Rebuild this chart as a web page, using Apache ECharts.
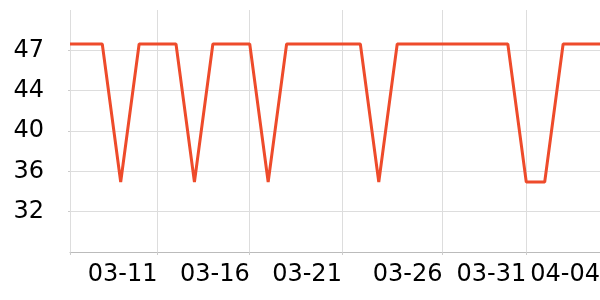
<!DOCTYPE html>
<html>
<head>
<meta charset="utf-8">
<script src="https://cdn.jsdelivr.net/npm/echarts@6/dist/echarts.min.js"></script>
<style>html,body{margin:0;padding:0;background:#fff}#c{width:600px;height:300px}</style>
</head>
<body>
<div id="c"></div>
<script>
// Data (readings; first one at the left edge of the window)
const dates = ['2024-03-06 06:00','2024-03-07','2024-03-08','2024-03-09','2024-03-10','2024-03-11','2024-03-12','2024-03-13','2024-03-14','2024-03-15','2024-03-16','2024-03-17','2024-03-18','2024-03-19','2024-03-20','2024-03-21','2024-03-22','2024-03-23','2024-03-24','2024-03-25','2024-03-26','2024-03-27','2024-03-28','2024-03-29','2024-03-30','2024-03-31','2024-04-01','2024-04-02','2024-04-03','2024-04-04'];
const values = [48,48,48,35,48,48,48,35,48,48,48,35,48,48,48,48,48,35,48,48,48,48,48,48,48,35,35,48,48,48];
// x axis ticks / labels
const xTicks = ['2024-03-06 06:00','2024-03-11','2024-03-16','2024-03-21','2024-03-26 11:00','2024-03-31','2024-04-04'];
const xLabelTicks = ['2024-03-11','2024-03-16','2024-03-21','2024-03-26 11:00','2024-03-31','2024-04-04'];
const xMin = '2024-03-06 06:00';
const xMax = '2024-04-04';
// y axis
const yMin = 28.4, yMax = 51.2, yStep = 3.8;

function toTs(s) {
  const m = s.match(/(\d+)-(\d+)-(\d+)(?: (\d+):(\d+))?/);
  return Date.UTC(+m[1], +m[2] - 1, +m[3], m[4] ? +m[4] : 0, m[5] ? +m[5] : 0);
}
function fmt(v) {
  const d = new Date(v);
  const p = n => (n < 10 ? '0' : '') + n;
  return p(d.getUTCMonth() + 1) + '-' + p(d.getUTCDate());
}

const chart = echarts.init(document.getElementById('c'), null, {renderer: 'canvas'});
const font = 'DejaVu Sans';
chart.setOption({
  animation: false,
  grid: {left: 70, right: 0, top: 10, bottom: 48, containLabel: false, outerBoundsMode: 'none'},
  xAxis: {
    type: 'value',
    min: toTs(xMin),
    max: toTs(xMax),
    axisLine: {show: true, lineStyle: {color: '#bbbbbb', width: 1}},
    axisTick: {show: true, length: 3, lineStyle: {color: '#cccccc'}, customValues: xTicks.map(toTs)},
    splitLine: {show: true, lineStyle: {color: '#dddddd', width: 1}},
    axisLabel: {
      customValues: xLabelTicks.map(toTs),
      align: 'right',
      margin: 11,
      color: '#000',
      fontFamily: font,
      fontSize: 24,
      formatter: v => fmt(v)
    }
  },
  yAxis: {
    type: 'value',
    min: yMin,
    max: yMax,
    interval: yStep,
    axisLine: {show: false},
    axisTick: {show: true, length: 2, lineStyle: {color: '#cccccc'}},
    splitLine: {show: true, showMaxLine: false, lineStyle: {color: '#dddddd', width: 1}},
    axisLabel: {
      showMinLabel: false,
      showMaxLabel: false,
      margin: 26,
      color: '#000',
      fontFamily: font,
      fontSize: 24,
      formatter: v => String(Math.round(v))
    }
  },
  series: [{
    type: 'line',
    data: dates.map((d, i) => [toTs(d), values[i]]),
    showSymbol: false,
    symbol: 'none',
    clip: true,
    lineStyle: {color: '#ee4b2b', width: 3},
    itemStyle: {color: '#ee4b2b'}
  }]
});
</script>
</body>
</html>
